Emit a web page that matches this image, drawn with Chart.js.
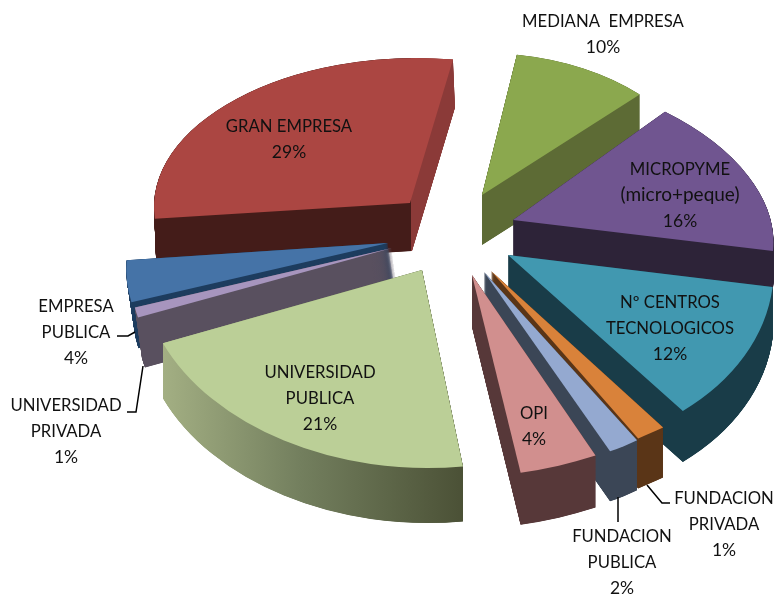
<!DOCTYPE html>
<html><head><meta charset="utf-8">
<style>html,body{margin:0;padding:0;background:#fff}canvas{display:block}</style>
<script src="https://cdn.jsdelivr.net/npm/chart.js@4"></script>
</head><body><canvas id="c" width="776" height="597"></canvas>
<script>
const categories = ["MEDIANA  EMPRESA","MICROPYME (micro+peque)","Nº CENTROS TECNOLOGICOS","FUNDACION PRIVADA","FUNDACION PUBLICA","OPI","UNIVERSIDAD PUBLICA","UNIVERSIDAD PRIVADA","EMPRESA PUBLICA","GRAN EMPRESA"];
const values = [10,16,12,1,2,4,21,1,4,29];
const topColors = ["#8ba84e","#705590","#4198b0","#d9823a","#94a9d0","#d18f8e","#bbcf97","#a795be","#4573a7","#ab4642"];

// Per-slice 3D look: where the slice's tip is pulled to, its projection matrix, wall depth and lean.
const views = [
  {tip:[482,195],m:[223,0,0,142],depth:50,lean:0},
  {tip:[513,220],m:[257,-2,42,151],depth:37,lean:0},
  {tip:[508,255],m:[264,-11,32,196],depth:51,lean:0},
  {tip:[491,271],m:[421,-60,-78,230],depth:50,lean:0},
  {tip:[484,272],m:[255,1,27,195],depth:50,lean:0},
  {tip:[472,275],m:[311,-12,0,202],depth:52,lean:0},
  {tip:[422,270],m:[281,6,-3,198],depth:55,lean:0},
  {tip:[392,248],m:[256,-1,-48,173],depth:50,lean:7},
  {tip:[388,243],m:[259,-1,-38,172],depth:46,lean:7},
  {tip:[410,203],m:[256,-2,-3,145],depth:48,lean:2}
];
const wallStops = [
  [[0,"#5d6b35"],[776,"#5d6b35"]],
  [[0,"#2d2338"],[776,"#2d2338"]],
  [[0,"#193c48"],[776,"#193c48"]],
  [[0,"#5a3517"],[776,"#5a3517"]],
  [[0,"#3b4656"],[776,"#3b4656"]],
  [[0,"#573839"],[776,"#573839"]],
  [[163,"#a3af83"],[300,"#737f5e"],[463,"#4b5136"]],
  [[0,"#59505f"],[776,"#59505f"]],
  [[0,"#1d3c5e"],[776,"#1d3c5e"]],
  [[0,"#441c19"],[411,"#441c19"],[411.5,"#8b3a38"],[776,"#8b3a38"]]
];
const drawOrder = [9,0,1,2,3,4,5,8,7,6];

const labelLines = [["MEDIANA  EMPRESA"],["MICROPYME","(micro+peque)"],["Nº CENTROS","TECNOLOGICOS"],["FUNDACION","PRIVADA"],["FUNDACION","PUBLICA"],["OPI"],["UNIVERSIDAD","PUBLICA"],["UNIVERSIDAD","PRIVADA"],["EMPRESA","PUBLICA"],["GRAN EMPRESA"]];
const labelSpots = [[603,21.5],[680,169.5],[670,302.5],[724,498.5],[622,536.5],[534,413.5],[320,372.5],[66,405.5],[76,306.5],[289,126.5]];
const leaderLines = [
  [[117,336],[128,336],[135,332]],
  [[127,412],[136,412],[143,366]],
  [[670,503],[662,503],[647,485]],
  [[618,497],[618,522]]
];
const LINE_GAP = 25.7;
const fontFor = t => (/%$/.test(t) ? 17.5 : /[a-z]/.test(t) ? 19 : 16.7) + 'px Lato, sans-serif';

function paintSlice(ctx, arc, i, R) {
  const v = views[i], [a,b,c,d] = v.m;
  const W = ctx.canvas.width, H = ctx.canvas.height;
  const place = (g, ox, oy) => {
    g.setTransform(a/R, b/R, c/R, d/R, v.tip[0]+ox, v.tip[1]+oy);
    g.translate(-arc.x, -arc.y);
  };
  const withColor = (g, col) => {
    const o = arc.options;
    arc.options = Object.assign({}, o, {backgroundColor: col, borderWidth: 0});
    arc.draw(g);
    arc.options = o;
  };
  // extruded wall on a layer, tinted with its screen-space colour ramp
  const layer = document.createElement('canvas');
  layer.width = W; layer.height = H;
  const g = layer.getContext('2d');
  for (let s = v.depth; s >= 0; s -= 0.25) {
    place(g, v.lean * s / v.depth, s);
    withColor(g, '#000');
  }
  g.setTransform(1,0,0,1,0,0);
  g.globalCompositeOperation = 'source-atop';
  const stops = wallStops[i];
  const x0 = stops[0][0], x1 = stops[stops.length-1][0];
  const grad = g.createLinearGradient(x0,0,x1,0);
  stops.forEach(([x,col]) => grad.addColorStop((x-x0)/(x1-x0), col));
  g.fillStyle = grad;
  g.fillRect(0,0,W,H);
  ctx.save();
  ctx.setTransform(1,0,0,1,0,0);
  ctx.drawImage(layer,0,0);
  place(ctx,0,0);
  withColor(ctx, topColors[i]);
  ctx.restore();
}

const pie3d = {
  id:'pie3d',
  beforeDatasetDraw(chart) {
    const arcs = chart.getDatasetMeta(0).data;
    drawOrder.forEach(i => paintSlice(chart.ctx, arcs[i], i, arcs[i].outerRadius));
    return false;
  },
  afterDraw(chart) {
    const ctx = chart.ctx;
    ctx.save();
    ctx.strokeStyle = '#000'; ctx.lineWidth = 1.5;
    leaderLines.forEach(pts => {
      ctx.beginPath();
      pts.forEach(([x,y],k) => k ? ctx.lineTo(x,y) : ctx.moveTo(x,y));
      ctx.stroke();
    });
    ctx.fillStyle = '#111';
    ctx.textAlign = 'center'; ctx.textBaseline = 'middle';
    labelLines.forEach((lines,i) => {
      const [x,y] = labelSpots[i];
      [...lines, values[i] + '%'].forEach((t,k) => {
        ctx.font = fontFor(t);
        ctx.fillText(t, x, y + k*LINE_GAP);
      });
    });
    ctx.restore();
  }
};

new Chart(document.getElementById('c'), {
  type:'pie',
  data:{labels:categories,datasets:[{data:values,backgroundColor:topColors,borderWidth:0}]},
  options:{
    responsive:false, animation:false, rotation:9, radius:100,
    plugins:{legend:{display:false},tooltip:{enabled:false}},
    events:[]
  },
  plugins:[pie3d]
});
</script></body></html>
